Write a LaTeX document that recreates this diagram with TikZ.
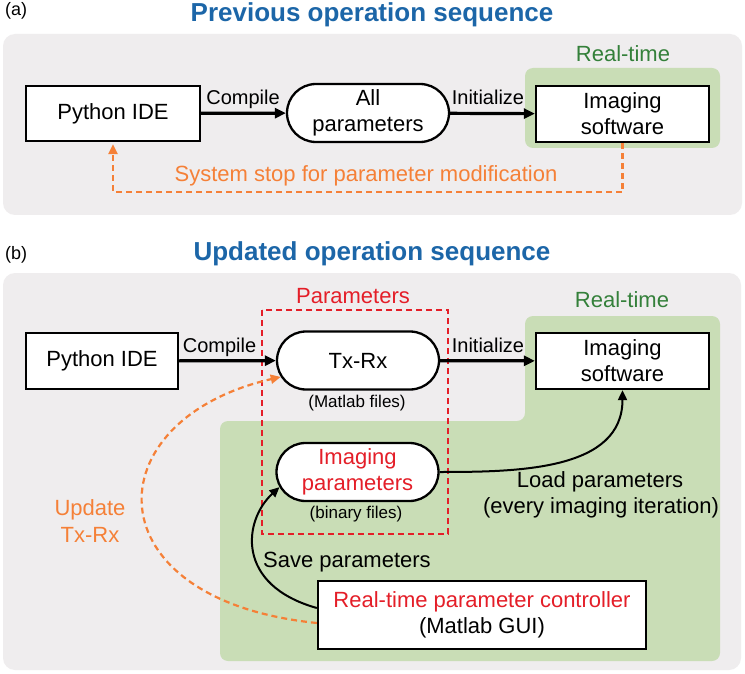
\documentclass[tikz,border=0pt]{standalone}
\usepackage{fontspec}
\setmainfont{Liberation Sans}
\usetikzlibrary{arrows.meta,shapes.misc}
\definecolor{titleblue}{RGB}{28,102,168}
\definecolor{rtgreen}{RGB}{52,128,58}
\definecolor{rtfill}{RGB}{201,221,182}
\definecolor{panelgray}{RGB}{239,237,238}
\definecolor{updorange}{RGB}{245,128,55}
\definecolor{parred}{RGB}{228,30,40}
\newcommand{\fsBig}{\fontsize{22}{26}\selectfont}
\newcommand{\fsMid}{\fontsize{20}{24}\selectfont}
\newcommand{\fsSmall}{\fontsize{17}{20}\selectfont}

\begin{document}
\begin{tikzpicture}[x=1pt,y=-1pt,
  lbl/.style={font=\fsBig, inner sep=0pt, anchor=base},
  arrlbl/.style={font=\fsMid, inner sep=0pt, anchor=base},
  note/.style={font=\fsSmall, inner sep=0pt, anchor=base},
  heading/.style={font={\fontsize{26}{30}\selectfont\bfseries}, text=titleblue, inner sep=0pt, anchor=base},
  panel/.style={font={\fontsize{18}{22}\selectfont}, inner sep=0pt, anchor=base west},
  box/.style={draw, line width=2.3pt, fill=white, font=\fsBig, align=center, inner sep=0pt},
  pill/.style={rounded rectangle, draw, line width=2.3pt, fill=white, font=\fsBig, align=center,
    inner sep=0pt, minimum width=162pt, minimum height=58pt},
  flow/.style={line width=3.2pt, -{Triangle[length=11pt,width=10pt]}},
  link/.style={line width=2pt, -{Triangle[length=10pt,width=9pt]}},
  update/.style={updorange, line width=2.2pt, dash pattern=on 6pt off 4pt, -{Triangle[length=10pt,width=9pt]}}]
\useasboundingbox (0,0) rectangle (745,674);
\fill[white] (0,0) rectangle (745,674);

% (a) previous sequence
\fill[panelgray, rounded corners=12pt] (3,34) rectangle (742,215);
\fill[rtfill, rounded corners=8pt] (525,68) rectangle (720,148);
\node[panel] (laba) at (5,16) {(a)};
\node[heading] (titlea) at (372,22) {Previous operation sequence};
\node[lbl, text=rtgreen] (rta) at (623,62) {Real-time};

\node[box, minimum width=174pt, minimum height=55pt] (py1) at (113,113.5) {Python IDE};
\node[pill] (allpar) at (368,113) {All\\parameters};
\node[box, minimum width=173pt, minimum height=56pt] (img1) at (622.5,114) {Imaging\\software};

\draw[flow] (py1) -- (allpar);
\draw[flow] (allpar) -- (img1);
\node[arrlbl] (compa) at (243,105) {Compile};
\node[arrlbl] (inita) at (488,105) {Initialize};

\draw[update, shorten >=2pt] (img1.south) -- ++(0,49) -| (py1.south);
\node[lbl, text=updorange] (stopa) at (366,182) {System stop for parameter modification};

% (b) updated sequence
\fill[panelgray, rounded corners=12pt] (3,273) rectangle (741,670);
\fill[rtfill, rounded corners=8pt] (525,316) -- (720,316) -- (720,661) -- (220,661)
  -- (220,421) -- (525,421) -- cycle;
\node[panel] (labb) at (5,259) {(b)};
\node[heading] (titleb) at (372,260) {Updated operation sequence};
\node[lbl, text=rtgreen] (rtb) at (622,307) {Real-time};

\draw[parred, line width=1.6pt, dash pattern=on 6pt off 4pt] (262,310) rectangle (448,534);
\node[lbl, text=parred] (parlbl) at (353,303) {Parameters};

\node[box, minimum width=152pt, minimum height=56pt] (py2) at (102,361) {Python IDE};
\node[pill] (txrx) at (358,360.5) {Tx-Rx};
\node[box, minimum width=173pt, minimum height=56pt] (img2) at (622.5,361) {Imaging\\software};
\node[pill, text=parred] (impar) at (357.5,472) {Imaging\\parameters};
\node[box, minimum width=328pt, minimum height=68pt] (ctrl) at (482,615)
  {\textcolor{parred}{Real-time parameter controller}\\(Matlab GUI)};

\node[note] (mfiles) at (357,407) {(Matlab files)};
\node[note] (bfiles) at (356,518) {(binary files)};

\draw[flow] (py2) -- (txrx);
\draw[flow] (txrx) -- (img2);
\node[arrlbl] (compb) at (219.5,352) {Compile};
\node[arrlbl] (initb) at (488,352) {Initialize};

\draw[link] (impar.east) .. controls +(80,0) and +(0,80) .. (img2.south);
\node[lbl] (load1) at (600,487) {Load parameters};
\node[lbl] (load2) at (601,513) {(every imaging iteration)};

\draw[link] ([yshift=7pt]ctrl.west) .. controls +(-82,-23) and +(-36,33) .. (impar.191);
\node[lbl] (save) at (347,567) {Save parameters};

\draw[update] ([yshift=-8pt]ctrl.west) .. controls +(-227,-23) and +(-188,43) .. (txrx.192);
\node[lbl, text=updorange] (upd1) at (90,515) {Update};
\node[lbl, text=updorange] (upd2) at (90,542) {Tx-Rx};
\end{tikzpicture}
\end{document}
